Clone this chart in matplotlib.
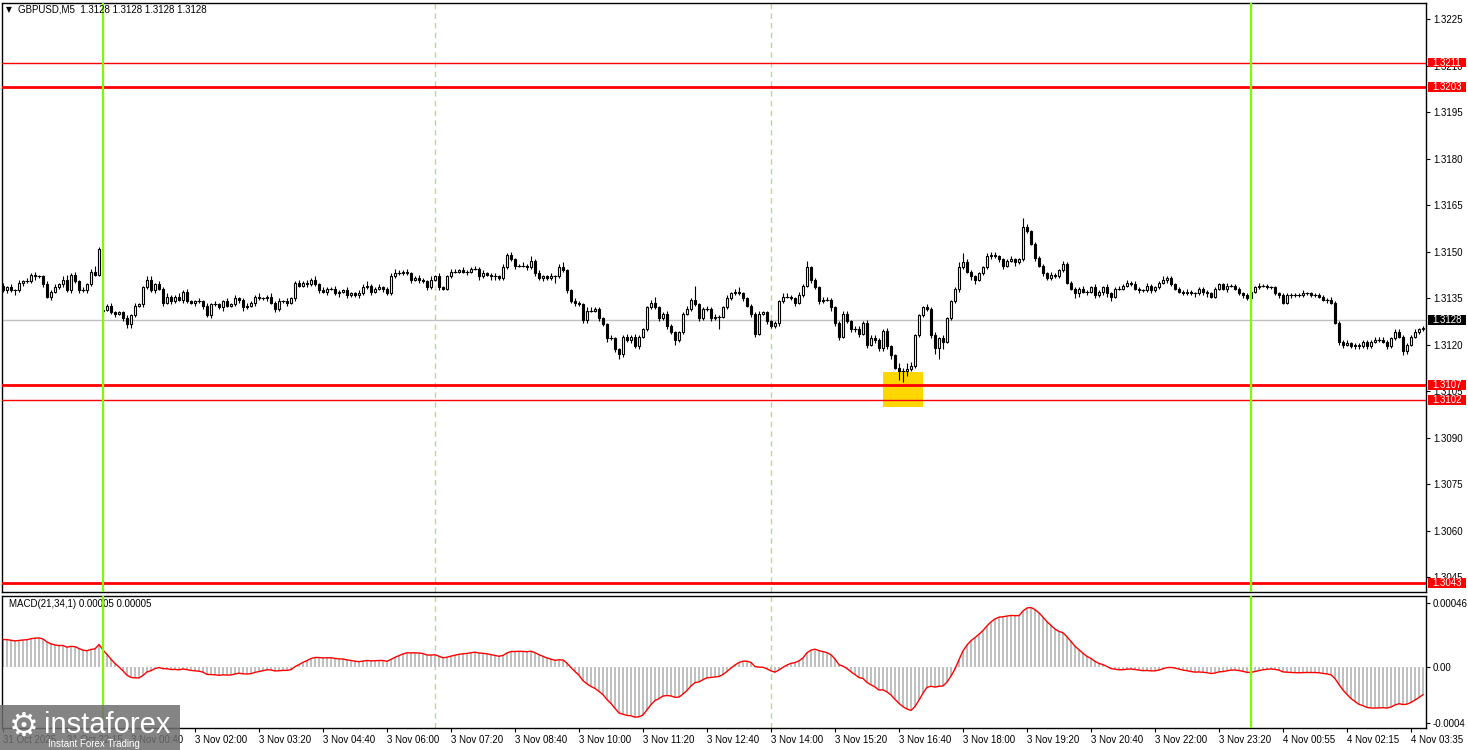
import numpy as np
import matplotlib.pyplot as plt
import matplotlib.transforms as mtransforms
from matplotlib.patches import Rectangle

plt.rcParams['font.family'] = ['Liberation Sans', 'DejaVu Sans']

# prices are stored as pips above 1.3100
base = 1.3100
pip = 0.0001

closes = [
    37.5, 38.5, 37.5, 37.5, 40, 40.5, 40.5, 42.5, 42, 42, 39.5, 35.5, 37, 38.5, 39.5, 41, 37.5, 42.5, 40.5, 37.5,
    37.5, 39.5, 43.5, 42.5, 51, 31.3, 32.5, 30.5, 30, 30.5, 28.5, 26.5, 29.5, 32.5, 33, 38.5, 41, 37.5, 39.5, 38,
    33.5, 35.5, 34, 35.5, 34.5, 37, 34, 33.5, 34, 34, 32.5, 29.5, 33, 33, 32, 34, 32.5, 33, 35, 34.5,
    32, 32.5, 33.5, 35.5, 35, 35, 35.5, 33.5, 31.5, 34, 34, 33.5, 35, 40, 39, 40, 39.5, 41, 39.5, 37.5,
    37, 38, 38, 36.5, 37, 37.5, 36, 36.5, 36, 36.5, 38.5, 39, 37, 38, 38.5, 38, 36.5, 42, 43, 43,
    43.5, 43, 41, 41.5, 41, 40.5, 38.5, 41, 42, 38.5, 38, 42, 43.5, 43.5, 44, 43.5, 43.5, 44.5, 44.5, 42,
    43, 42.5, 42, 42, 41.5, 45, 49, 47.5, 45.5, 45.5, 45.5, 45, 47, 43, 41.5, 42, 41.5, 42, 42, 45,
    44, 37.5, 34, 33.5, 33, 28, 31, 31, 31.5, 28.5, 26.5, 22, 22, 18.5, 17, 22.5, 21.5, 22.5, 19.5, 22.5,
    25, 32, 33.5, 32, 28.5, 30, 26, 24, 21.5, 24, 30, 31.5, 34.5, 33, 28.5, 31.5, 31.5, 28.5, 29, 29,
    32, 35, 36.5, 37, 36.5, 35, 32.5, 30, 23.5, 30, 30.5, 27.5, 26, 27, 34, 35.5, 35.5, 35, 33.5, 36,
    39, 45, 41, 38.5, 34, 34.5, 34.5, 32, 27, 22.5, 30, 27.5, 25, 25, 23.5, 27, 20, 22, 21.5, 19,
    24.5, 19.5, 16.5, 12.5, 11.5, 11.5, 12, 13, 23, 29.5, 32, 31.5, 23, 19, 22, 21, 28.5, 34, 38, 45,
    46.5, 43.5, 42, 41, 43, 45, 48.5, 49, 48.5, 47.5, 45.5, 47, 47.5, 46.5, 47.5, 58, 56.5, 52.5, 48, 45.5,
    43, 41.5, 42.5, 42, 44, 46, 40, 38, 36.5, 38, 37, 37, 38.5, 36, 37, 38.5, 36.5, 35.5, 38, 38,
    39, 40, 39.5, 38, 37.5, 37.5, 39, 37.5, 38.5, 40, 41, 41.5, 39.5, 38, 37, 36.5, 37, 36.5, 36.5, 38,
    37, 36.5, 35.5, 38, 39.5, 38, 39, 39, 38, 36.5, 36, 35, 37, 38.5, 39, 39, 38.5, 38.5, 36.5, 36,
    33.5, 36, 36, 36, 36, 36.5, 36.5, 36, 36, 35.5, 34.5, 34.5, 33.5, 27, 21, 20, 20.5, 19.5, 20, 19.5,
    21, 19.5, 21, 21.5, 21.5, 21, 19.5, 22, 24, 22.5, 18, 20, 22.5, 24, 25, 25.5,
]

up_wick = [
    1, 0.5, 1, 0.5, 1, 0.5, 1, 0.5, 1, 0.5, 0.5, 1, 0.5, 1, 0.5, 1, 1.5, 0.5, 1, 0.5,
    1, 0.5, 1, 2, 0.5, 0.5, 0.5, 1, 0.5, 0.5, 0.5, 1, 0.5, 1, 0.5, 0.5, 1, 1, 0.5, 1,
    0.5, 1, 0.5, 0.5, 1, 0.5, 1, 0.5, 0.5, 1, 0.5, 1, 0.5, 1, 0.5, 0.5, 1, 0.5, 1, 0.5,
    0.5, 1, 0.5, 0.5, 1, 0.5, 0.5, 1, 0.5, 1, 0.5, 1, 0.5, 0.5, 1, 0.5, 1, 0.5, 1, 0.5,
    1, 0.5, 0.5, 1, 0.5, 0.5, 1, 0.5, 0.5, 1, 1, 1.5, 0.5, 0.5, 1, 0.5, 0.5, 1, 1.5, 1,
    0.5, 1, 0.5, 0.5, 1, 0.5, 0.5, 1, 0.5, 1, 0.5, 0.5, 1, 1, 0.5, 1, 0.5, 0.5, 1, 0.5,
    1, 0.5, 0.5, 1, 0.5, 1, 0.5, 1, 0.5, 0.5, 1, 0.5, 1.5, 0.5, 1, 0.5, 0.5, 1, 0.5, 1,
    1.5, 0.5, 0.5, 1, 0.5, 0.5, 1, 1, 0.5, 0.5, 0.5, 0.5, 1, 0.5, 0.5, 0.5, 1, 0.5, 1, 0.5,
    0.5, 0.5, 1, 2, 0.5, 0.5, 1, 0.5, 0.5, 0.5, 0.5, 1, 0.5, 4.5, 0.5, 0.5, 1, 0.5, 1, 0.5,
    0.5, 1, 0.5, 1, 1.5, 0.5, 0.5, 0.5, 0.5, 1, 0.5, 0.5, 0.5, 0.5, 0.5, 1, 1, 0.5, 0.5, 1,
    0.5, 2, 0.5, 0.5, 0.5, 1, 1, 0.5, 0.5, 0.5, 1, 1, 0.5, 1, 1, 0.5, 1, 1, 1, 0.5,
    0.5, 1, 0.5, 0.5, 1.5, 1, 2, 1.5, 0.5, 0.5, 0.5, 1, 0.5, 1, 0.5, 1, 0.5, 0.5, 0.5, 1.5,
    3, 1, 0.5, 0.5, 0.5, 0.5, 1, 1, 1, 0.5, 0.5, 0.5, 1, 0.5, 0.5, 3, 1, 0.5, 0.5, 0.5,
    0.5, 0.5, 1, 0.5, 0.5, 1, 0.5, 0.5, 0.5, 0.5, 1, 0.5, 0.5, 1, 0.5, 0.5, 1, 0.5, 0.5, 1,
    0.5, 1, 0.5, 1, 0.5, 0.5, 1, 0.5, 0.5, 0.5, 1, 0.5, 0.5, 0.5, 0.5, 0.5, 1, 0.5, 0.5, 0.5,
    0.5, 0.5, 0.5, 0.5, 0.5, 0.5, 1, 0.5, 0.5, 0.5, 0.5, 0.5, 1, 0.5, 1, 0.5, 0.5, 0.5, 0.5, 0.5,
    0.5, 0.5, 0.5, 0.5, 0.5, 1, 0.5, 0.5, 0.5, 0.5, 0.5, 0.5, 1, 0.5, 0.5, 0.5, 1, 0.5, 0.5, 0.5,
    0.5, 0.5, 0.5, 1, 1, 1, 0.5, 0.5, 1, 1, 0.5, 0.5, 0.5, 1, 0.5, 0.5,
]

dn_wick = [
    0.5, 1, 0.5, 1.5, 0.5, 1, 0.5, 0.5, 1, 0.5, 1, 0.5, 1, 0.5, 0.5, 1, 0.5, 1, 0.5, 1,
    0.5, 1, 0.5, 0.5, 0.5, 1, 0.5, 0.5, 1, 0.5, 1, 1, 1, 0.5, 0.5, 1, 0.5, 0.5, 1, 0.5,
    1, 0.5, 1, 0.5, 0.5, 1, 0.5, 0.5, 1, 0.5, 1, 0.5, 1, 0.5, 0.5, 1, 0.5, 0.5, 0.5, 1,
    1, 0.5, 0.5, 1, 0.5, 0.5, 1, 0.5, 1, 0.5, 0.5, 1, 0.5, 1, 0.5, 0.5, 1, 0.5, 0.5, 1,
    0.5, 1, 0.5, 0.5, 1, 0.5, 1, 0.5, 0.5, 1, 0.5, 0.5, 1, 0.5, 0.5, 1, 0.5, 0.5, 0.5, 0.5,
    0.5, 0.5, 1, 0.5, 1, 0.5, 1, 0.5, 0.5, 1, 0.5, 0.5, 0.5, 0.5, 0.5, 0.5, 1, 0.5, 0.5, 1,
    0.5, 0.5, 1, 1, 0.5, 0.5, 0.5, 0.5, 1, 0.5, 0.5, 1, 0.5, 1, 0.5, 1, 0.5, 0.5, 2, 0.5,
    0.5, 1, 0.5, 1, 0.5, 1, 1, 0.5, 0.5, 1, 0.5, 1, 0.5, 1, 1.5, 1, 0.5, 1, 0.5, 1,
    0.5, 0.5, 0.5, 0.5, 1, 0.5, 1, 0.5, 1.5, 0.5, 0.5, 0.5, 0.5, 0.5, 1, 0.5, 0.5, 1, 0.5, 4,
    0.5, 0.5, 0.5, 0.5, 0.5, 1, 0.5, 1, 1, 0.5, 0.5, 1, 0.5, 0.5, 1, 0.5, 0.5, 0.5, 1, 0.5,
    0.5, 0.5, 1, 0.5, 1, 0.5, 0.5, 1, 1, 1, 0.5, 0.5, 1, 1, 1, 0.5, 1, 0.5, 1, 1,
    1, 1, 1, 0.5, 3, 3.5, 1.5, 0.5, 0.5, 0.5, 0.5, 0.5, 1, 2, 3.5, 2.5, 0.5, 0.5, 0.5, 1,
    0.5, 0.5, 1, 1.5, 0.5, 0.5, 0.5, 1, 0.5, 1, 1, 0.5, 0.5, 1, 0.5, 0.5, 0.5, 0.5, 1, 0.5,
    1, 0.5, 0.5, 0.5, 0.5, 0.5, 0.5, 0.5, 1.5, 1, 0.5, 1, 0.5, 1, 0.5, 1, 1, 1.5, 0.5, 0.5,
    0.5, 0.5, 0.5, 0.5, 1, 0.5, 0.5, 1, 0.5, 0.5, 0.5, 1, 0.5, 0.5, 0.5, 0.5, 0.5, 0.5, 1, 0.5,
    1, 1, 0.5, 0.5, 0.5, 0.5, 1, 0.5, 0.5, 0.5, 1, 0.5, 0.5, 0.5, 0.5, 0.5, 0.5, 0.5, 0.5, 1,
    0.5, 0.5, 1, 0.5, 0.5, 0.5, 0.5, 0.5, 0.5, 0.5, 0.5, 1, 0.5, 0.5, 1, 1, 0.5, 0.5, 1, 1,
    0.5, 1, 0.5, 0.5, 0.5, 0.5, 1, 0.5, 0.5, 0.5, 1.5, 1, 0.5, 0.5, 0.5, 0.5,
]

first_open = 39.0
gap_open = {25: 31.0}   # weekend gap, Monday open

price_ticks = [1.3225, 1.3210, 1.3195, 1.3180, 1.3165, 1.3150, 1.3135,
               1.3120, 1.3105, 1.3090, 1.3075, 1.3060, 1.3045]
levels = [1.3211, 1.3203, 1.3107, 1.3102, 1.3043]
level_widths = [1.0, 2.0, 2.0, 1.0, 2.0]
bid = 1.3128
day_lines = [24.9, 312]
session_lines = [108, 192]
time_ticks = list(range(0, 353, 16))
time_labels = ['31 Oct 2025', '31 Oct 22:15', '3 Nov 00:40', '3 Nov 02:00', '3 Nov 03:20',
               '3 Nov 04:40', '3 Nov 06:00', '3 Nov 07:20', '3 Nov 08:40', '3 Nov 10:00',
               '3 Nov 11:20', '3 Nov 12:40', '3 Nov 14:00', '3 Nov 15:20', '3 Nov 16:40',
               '3 Nov 18:00', '3 Nov 19:20', '3 Nov 20:40', '3 Nov 22:00', '3 Nov 23:20',
               '4 Nov 00:55', '4 Nov 02:15', '4 Nov 03:35']
macd_ticks = [0.00046, 0.0, -0.0004]
macd_labels = ['0.00046', '0.00', '-0.0004']
zone = (219.9, 230.0, 1.30999, 1.31112)   # yellow box: bar from/to, price low/high

# ---- build OHLC
c = base + np.array(closes) * pip
o = np.r_[base + first_open * pip, c[:-1]]
for k, v in gap_open.items():
    o[k] = base + v * pip
hi = np.maximum(o, c) + np.array(up_wick) * pip
lo = np.minimum(o, c) - np.array(dn_wick) * pip
x = np.arange(len(c))

# MACD(21,34,1), main line == signal
ema_f = c[0] - 0.00025
ema_s = c[0] - 0.00045
macd = []
for v in c:
    ema_f += 2 / 22 * (v - ema_f)
    ema_s += 2 / 35 * (v - ema_s)
    macd.append(ema_f - ema_s)
macd = np.array(macd)

W, H = 1468, 750
fig = plt.figure(figsize=(W / 100, H / 100), dpi=100)
fig.patch.set_facecolor('white')
ax = fig.add_axes([2 / W, (H - 592) / H, 1424 / W, 589 / H])
ax2 = fig.add_axes([2 / W, (H - 728) / H, 1424 / W, 132 / H])

for a in (ax, ax2):
    a.set_xlim(-0.25, 355.75)
    for s in a.spines.values():
        s.set_color('black')
        s.set_linewidth(1)
    for xv in session_lines:
        a.axvline(xv, color='#b4dc8c', lw=1, ls=(0, (4, 3)), zorder=1)
    for xv in day_lines:
        a.axvline(xv, color='#7cfc00', lw=1.6, zorder=6)

# ---- price panel
ax.set_ylim(1.30402, 1.32302)
ax.axhline(bid, color='#c0c0c0', lw=1, zorder=1)
ax.add_patch(Rectangle((zone[0], zone[2]), zone[1] - zone[0], zone[3] - zone[2],
                       facecolor='#ffd700', edgecolor='none', zorder=2))

ax.vlines(x, lo, hi, color='black', lw=0.8, zorder=3)
bull = c > o
bear = c < o
doji = c == o
ax.bar(x[bull], (c - o)[bull], bottom=o[bull], width=0.55, facecolor='white',
       edgecolor='black', lw=0.8, zorder=4)
ax.bar(x[bear], (o - c)[bear], bottom=c[bear], width=0.55, facecolor='black',
       edgecolor='black', lw=0.8, zorder=4)
ax.hlines(c[doji], x[doji] - 0.4, x[doji] + 0.4, color='black', lw=0.8, zorder=4)

for lv, lw in zip(levels, level_widths):
    ax.axhline(lv, color='#ff0000', lw=lw, zorder=5)

ax.yaxis.tick_right()
ax.set_yticks(price_ticks)
ax.set_yticklabels([f'{t:.4f}' for t in price_ticks])
ax.tick_params(axis='y', direction='out', length=3, width=0.8, pad=2, labelsize=7)
ax.tick_params(axis='x', bottom=False, labelbottom=False)

trans = mtransforms.blended_transform_factory(ax.transAxes, ax.transData)
box_x0 = (1428 - 2) / 1424
box_w = 38 / 1424
half = 1.6 * pip
for lv, bg, fg in [(l, '#ff0000', 'white') for l in levels] + [(bid, 'black', 'white')]:
    ax.add_patch(Rectangle((box_x0, lv - half), box_w, 2 * half, transform=trans,
                           facecolor=bg, edgecolor='none', clip_on=False, zorder=7))
    ax.text(box_x0 + 4 / 1424, lv, f'{lv:.4f}', transform=trans, color=fg,
            fontsize=7, va='center', ha='left', clip_on=False, zorder=8)

fig.text(6 / W, 1 - 10 / H, '\u25bc', fontsize=5.5, va='center', ha='left',
         family=['DejaVu Sans'])
fig.text(18 / W, 1 - 10 / H, 'GBPUSD,M5  1.3128 1.3128 1.3128 1.3128',
         fontsize=7, va='center', ha='left')

# ---- MACD panel
ax2.set_ylim(-0.000438, 0.00051)
ax2.bar(x, macd, width=0.5, color='#c0c0c0', zorder=2)
ax2.plot(x, macd, color='#ff0000', lw=1, zorder=3)
ax2.yaxis.tick_right()
ax2.set_yticks(macd_ticks)
ax2.set_yticklabels(macd_labels)
ax2.set_xticks(time_ticks)
ax2.set_xticklabels(time_labels)
for lbl in ax2.get_xticklabels():
    lbl.set_ha('left')
ax2.tick_params(axis='both', direction='out', length=3, width=0.8, pad=2, labelsize=7)
ax2.text(7 / 1424, 1 - 8 / 132, 'MACD(21,34,1) 0.00005 0.00005', transform=ax2.transAxes,
         fontsize=7, va='center', ha='left')

# ---- watermark
wm = fig.add_axes([0, 0, 180 / W, 45 / H])
wm.set_xlim(0, 180)
wm.set_ylim(0, 45)
wm.axis('off')
wm.add_patch(Rectangle((0, 0), 180, 45, facecolor='#6e6e6e', alpha=0.85, edgecolor='none'))
wm.text(24, 24, '\u2699', fontsize=24, color='white', ha='center', va='center',
        family=['DejaVu Sans'])
wm.text(44, 25, 'instaforex', fontsize=21, color='white', ha='left', va='center')
wm.text(48, 6, 'Instant Forex Trading', fontsize=7, color='white', ha='left', va='center')

fig.savefig('out.png', dpi=100)
